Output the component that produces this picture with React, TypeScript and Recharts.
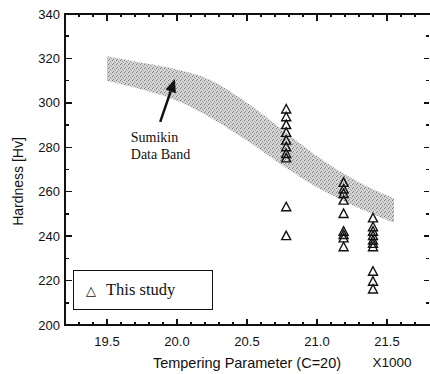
import React from 'react';
import { ComposedChart, Area, Scatter, XAxis, YAxis, ReferenceLine, ReferenceDot, Legend } from 'recharts';

// Sumikin data band (lower / upper edge, HV)
const bandX = [19.5, 19.75, 20.0, 20.25, 20.5, 20.75, 21.0, 21.25, 21.55];
const bandLow = [310, 306, 301, 293, 283, 272, 262, 254, 246];
const bandHigh = [321, 318, 315, 310, 300, 288, 276, 266, 257];

// this study, three tempering conditions
const columnX = [20.78, 21.19, 21.4];
const hardnessA = [297, 293.5, 290, 286.5, 283, 280, 277, 275, 253, 240];
const hardnessB = [264, 261, 259, 256, 250, 242, 240.5, 239, 235];
const hardnessC = [248, 244, 242, 240, 238, 236.5, 235, 224, 219.5, 216];

const xTicks = [19.3, 19.4, 19.5, 19.6, 19.7, 19.8, 19.9, 20.0, 20.1, 20.2, 20.3, 20.4, 20.5, 20.6, 20.7, 20.8, 20.9, 21.0, 21.1, 21.2, 21.3, 21.4, 21.5, 21.6, 21.7];
const xLabels = [19.5, 20.0, 20.5, 21.0, 21.5];
const yTicks = [200, 210, 220, 230, 240, 250, 260, 270, 280, 290, 300, 310, 320, 330, 340];

const bandData = bandX.map((x, i) => ({ x, range: [bandLow[i], bandHigh[i]] }));
const studyData = [
  ...hardnessA.map((y) => ({ x: columnX[0], y })),
  ...hardnessB.map((y) => ({ x: columnX[1], y })),
  ...hardnessC.map((y) => ({ x: columnX[2], y })),
];

const INK = '#111111';
const SANS = '"Liberation Sans", Arial, sans-serif';
const SERIF = '"Liberation Serif", "Times New Roman", serif';

// plot box of the chart below (margin + axis sizes)
const PLOT = { left: 65, top: 14, right: 429, bottom: 325 };
const X_DOMAIN = [19.2, 21.8];
const Y_DOMAIN = [200, 340];

const isMajorX = (v: number) => xLabels.some((m) => Math.abs(m - v) < 1e-6);

const BottomTick = ({ x, y, payload }: any) => {
  const major = isMajorX(payload.value);
  return (
    <g>
      <line x1={x} x2={x} y1={y} y2={y - (major ? 6 : 3)} stroke={INK} strokeWidth={1.5} />
      {major && (
        <text x={x} y={y + 21} textAnchor="middle" fontSize={13} fontFamily={SANS} fill={INK}>
          {payload.value.toFixed(1)}
        </text>
      )}
    </g>
  );
};

const LeftTick = ({ x, y, payload }: any) => {
  const major = payload.value % 20 === 0;
  return major ? (
    <text x={x - 5} y={y + 4.5} textAnchor="end" fontSize={13} fontFamily={SANS} fill={INK}>
      {payload.value}
    </text>
  ) : (
    <g />
  );
};

const Triangle = ({ cx, cy }: any) => (
  <polygon
    points={`${cx},${cy - 5} ${cx - 4.5},${cy + 3.5} ${cx + 4.5},${cy + 3.5}`}
    fill="none"
    stroke={INK}
    strokeWidth={1.4}
  />
);

const Arrow = ({ x1, y1, x2, y2 }: any) => {
  const dx = x2 - x1;
  const dy = y2 - y1;
  const len = Math.sqrt(dx * dx + dy * dy) || 1;
  const ux = dx / len;
  const uy = dy / len;
  const bx = x2 - ux * 13;
  const by = y2 - uy * 13;
  return (
    <g>
      <line x1={x1} y1={y1} x2={bx} y2={by} stroke={INK} strokeWidth={2.5} />
      <polygon
        points={`${x2},${y2} ${bx - uy * 5.5},${by + ux * 5.5} ${bx + uy * 5.5},${by - ux * 5.5}`}
        fill={INK}
      />
    </g>
  );
};

const BandNote = ({ cx, cy }: any) => (
  <text x={cx} y={cy} fontSize={14} fontFamily={SERIF} fill={INK}>
    <tspan x={cx} dy={0}>Sumikin</tspan>
    <tspan x={cx} dy={17}>Data Band</tspan>
  </text>
);

const LegendBox = () => (
  <div
    style={{
      width: 140,
      height: 40,
      boxSizing: 'border-box',
      border: `1.5px solid ${INK}`,
      background: '#fff',
      paddingLeft: 12,
      lineHeight: '37px',
      fontFamily: SERIF,
      fontSize: 16.5,
      color: INK,
      whiteSpace: 'nowrap',
    }}
  >
    <span style={{ fontFamily: '"DejaVu Sans", sans-serif', fontSize: 13, fontWeight: 'bold', marginRight: 10 }}>△</span>
    This study
  </div>
);

// axis frame with inward ticks, laid over the chart's plot box
const px = (v: number) => PLOT.left + ((v - X_DOMAIN[0]) / (X_DOMAIN[1] - X_DOMAIN[0])) * (PLOT.right - PLOT.left);
const py = (v: number) => PLOT.bottom - ((v - Y_DOMAIN[0]) / (Y_DOMAIN[1] - Y_DOMAIN[0])) * (PLOT.bottom - PLOT.top);
const bar = (left: number, top: number, width: number, height: number, key: string) => (
  <div key={key} style={{ position: 'absolute', left, top, width, height, background: INK }} />
);

const Frame = () => {
  const parts: any[] = [];
  parts.push(bar(PLOT.left - 1, PLOT.top - 1, 2, PLOT.bottom - PLOT.top + 2, 'l'));
  parts.push(bar(PLOT.left - 1, PLOT.top - 1, 432 - PLOT.left, 2, 't'));
  parts.push(bar(PLOT.left - 1, PLOT.bottom - 1, 432 - PLOT.left, 2, 'b'));
  xTicks.forEach((v) => {
    const x = px(v);
    const major = isMajorX(v);
    parts.push(bar(x - 0.75, PLOT.bottom - (major ? 6 : 3), 1.5, major ? 6 : 3, `xb${v}`));
    parts.push(bar(x - 0.75, PLOT.top, 1.5, major ? 7 : 3, `xt${v}`));
  });
  yTicks
    .filter((v) => v > 200 && v < 340)
    .forEach((v) => {
      const y = py(v);
      const major = v % 20 === 0;
      parts.push(bar(PLOT.left, y - 0.75, major ? 7 : 4, 1.5, `yl${v}`));
      parts.push(bar(PLOT.right - (major ? 5 : 3), y - 0.75, major ? 5 : 3, 1.5, `yr${v}`));
    });
  return <div style={{ position: 'absolute', left: 0, top: 0, width: 430, height: 374, pointerEvents: 'none' }}>{parts}</div>;
};

export default function App() {
  return (
    <div style={{ position: 'absolute', left: 0, top: 0, width: 430, height: 374, overflow: 'hidden' }}>
      <ComposedChart width={430} height={374} data={bandData} margin={{ top: 14, right: 1, bottom: 0, left: 0 }}>
        <defs>
          <pattern id="stipple" width={4} height={4} patternUnits="userSpaceOnUse">
            <rect width={4} height={4} fill="#d6d6d6" />
            <rect x={0} y={0} width={1} height={1} fill="#777" />
            <rect x={2} y={1} width={1} height={1} fill="#999" />
            <rect x={1} y={3} width={1} height={1} fill="#868686" />
            <rect x={3} y={2} width={1} height={1} fill="#a6a6a6" />
          </pattern>
        </defs>
        <XAxis
          dataKey="x"
          type="number"
          domain={X_DOMAIN}
          ticks={xTicks}
          interval={0}
          height={49}
          tickSize={0}
          tickMargin={0}
          tickLine={false}
          tick={<BottomTick />}
          axisLine={false}
          label={(props: any) => {
            const vb = props.viewBox;
            return (
              <g>
                <text x={vb.x + vb.width / 2} y={vb.y + 43} textAnchor="middle" fontSize={14.5} fontFamily={SANS} fill={INK}>
                  Tempering Parameter (C=20)
                </text>
                <text x={vb.x + vb.width - 37} y={vb.y + 42} textAnchor="middle" fontSize={13.5} fontFamily={SANS} fill={INK}>
                  X1000
                </text>
              </g>
            );
          }}
        />
        <YAxis
          type="number"
          domain={Y_DOMAIN}
          ticks={yTicks}
          interval={0}
          width={65}
          tickSize={0}
          tickMargin={0}
          tickLine={false}
          tick={<LeftTick />}
          axisLine={false}
          label={(props: any) => {
            const vb = props.viewBox;
            const cx = vb.x + 18;
            const cy = vb.y + vb.height / 2 + 12;
            return (
              <text
                x={cx}
                y={cy}
                transform={`rotate(-90 ${cx} ${cy})`}
                textAnchor="middle"
                dominantBaseline="central"
                fontSize={14}
                fontFamily={SANS}
                fill={INK}
              >
                Hardness [Hv]
              </text>
            );
          }}
        />
        <Area
          dataKey="range"
          type="monotone"
          fill="url(#stipple)"
          fillOpacity={1}
          stroke="none"
          isAnimationActive={false}
          activeDot={false}
          legendType="none"
        />
        <Scatter
          name="This study"
          data={studyData}
          dataKey="y"
          fill={INK}
          shape={<Triangle />}
          isAnimationActive={false}
        />
        <ReferenceLine
          segment={[
            { x: 19.88, y: 291.4 },
            { x: 19.985, y: 310.7 },
          ]}
          shape={<Arrow />}
        />
        <ReferenceDot x={19.67} y={282.4} r={0} shape={<BandNote />} />
        <Legend
          layout="horizontal"
          verticalAlign="middle"
          align="center"
          content={<LegendBox />}
          wrapperStyle={{ left: 73, top: 270, width: 140, height: 40 }}
        />
      </ComposedChart>
      <Frame />
    </div>
  );
}
